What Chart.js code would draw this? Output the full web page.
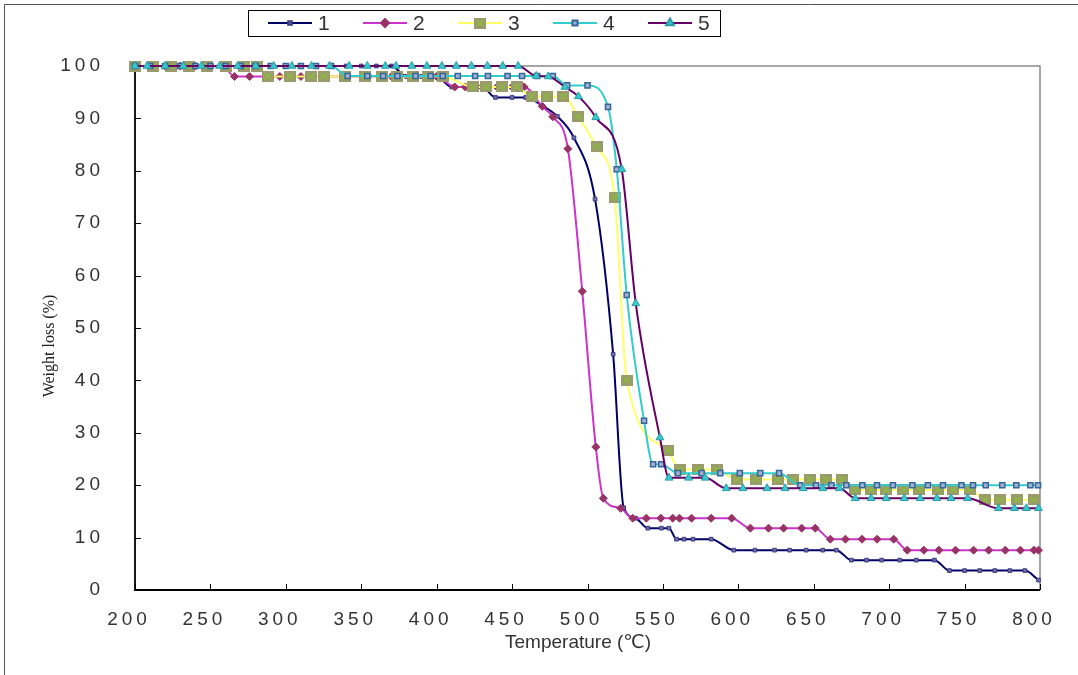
<!DOCTYPE html>
<html><head><meta charset="utf-8">
<script src="https://cdn.jsdelivr.net/npm/chart.js@4.4.0/dist/chart.umd.min.js"></script>
<style>html,body{margin:0;padding:0;background:#fff;}#wrap{width:1078px;height:675px;}</style>
</head><body><div id="wrap"><canvas id="c" width="1078" height="675"></canvas></div>
<script>
const xTicks = [200,250,300,350,400,450,500,550,600,650,700,750,800];
const yTicks = [0,10,20,30,40,50,60,70,80,90,100];
const seriesLabels = ['1','2','3','4','5'];
const xTitle = 'Temperature (℃)';
const yTitle = 'Weight loss (%)';

const temp1 = [200,210,220,230,240,250,260,270,280,290,300,310,320,330,340,350,360,370,380,390,400,410,420,430,439,450,459,470,480,491,505,517,524,532,540,549,554,559,564,570,582,597,611,624,634,645,656,665,675,685,695,707,718,730,740,750,760,770,780,790,799];
const loss1 = [100,100,100,100,100,100,100,100,100,100,100,100,100,100,100,100,100,100,98,98,98,96,96,96,94,94,94,92.4,90.4,86.3,74.6,45,15.7,13.7,11.8,11.8,11.8,9.7,9.7,9.7,9.7,7.6,7.6,7.6,7.6,7.6,7.6,7.6,5.7,5.7,5.7,5.7,5.7,5.7,3.7,3.7,3.7,3.7,3.7,3.7,1.9];

const temp2 = [200,210,220,230,240,250,258,266,276,296,310,325,340,355,370,385,400,412,419,430,440,450,458,470,477,487,496.5,505.5,510.5,522,530,539,548.6,556.5,561,569,582,595.6,608,620,630,642,651,661,671,682,692,703,712,723,733,744,756,766,777,787,796,799];
const loss2 = [100,100,100,100,100,100,100,98,98,98,98,98,98,98,98,98,98,96,96,96,96,96,96,92.3,90.3,84.2,57,27.3,17.5,15.6,13.7,13.7,13.7,13.7,13.7,13.7,13.7,13.7,11.8,11.8,11.8,11.8,11.8,9.7,9.7,9.7,9.7,9.7,7.6,7.6,7.6,7.6,7.6,7.6,7.6,7.6,7.6,7.6];

const temp3 = [200,212,224,236,248,260,272,281,288,303,317,325,339,352.5,364,374,384,394,404,424,433,443,453,463,473,484,494,506,518,526,553.5,561,573.5,585.6,599,612,626,636.5,647.5,658,668.6,677.5,688,698,709.5,720,732.7,742.6,753.7,763.7,773.6,784.7,796];
const loss3 = [100,100,100,100,100,100,100,100,98,98,98,98,98,98,98,98,98,98,98,96,96,96,96,94.2,94.2,94.2,90.3,84.6,75,40,26.6,23,23,23,21.1,21.1,21.1,21.1,21.1,21.1,21.1,19.1,19.1,19.1,19.1,19.1,19.1,19.1,19.1,17.2,17.2,17.2,17.2];

const temp4 = [200,210,220,230,240,250,260,270,280,290,300,310,320,330,341,354,364.5,374,386,396,404,414,425.5,434,447,456.6,466.6,477,486.5,500,513.6,519.4,526,537.5,543.5,548.8,560,575.7,588,601,614.5,627,641,651.5,661.7,671.6,682.2,691.9,702.5,715.4,725.7,735.7,747.9,755.6,764,775,784.3,793.6,798.7];
const loss4 = [100,100,100,100,100,100,100,100,100,100,100,100,100,100,98.1,98.1,98.1,98.1,98.1,98.1,98.1,98.1,98.1,98.1,98.1,98.1,98.1,98.1,96.3,96.3,92.2,80.3,56.3,32.3,24,24,22.3,22.3,22.3,22.3,22.3,22.3,20,20,20,20,20,20,20,20,20,20,20,20,20,20,20,20,20];

const temp5 = [200,208,220,232,244,256,268,280,292,304,317,329,342,354,366,373,383.5,393.5,403.5,413,423,433.6,443.8,454,466,474,485,494,505.5,522.7,532,548,554,567,578,592,603,619,631,643,656,667,677.5,688,698,710,720.6,731.6,741,752,772.5,783,791,799];
const loss5 = [100,100,100,100,100,100,100,100,100,100,100,100,100,100,100,100,100,100,100,100,100,100,100,100,98.1,98,96,94.2,90.2,80.3,54.7,29.1,21.4,21.4,21.4,19.4,19.4,19.4,19.4,19.4,19.4,19.4,17.5,17.5,17.5,17.5,17.5,17.5,17.5,17.5,15.6,15.6,15.6,15.6];

const toPts = (t, v) => t.map((x, i) => ({x: x, y: v[i]}));

// olive square with green cross marker for series 3
const sq3 = document.createElement('canvas');
sq3.width = 12; sq3.height = 11;
(function(){
  const g = sq3.getContext('2d');
  g.fillStyle = '#9a9a6c'; g.fillRect(0,0,12,11);
  g.strokeStyle = '#8cbf3a'; g.lineWidth = 1.4;
  g.beginPath(); g.moveTo(2.5,2.5); g.lineTo(9.5,8.5); g.moveTo(9.5,2.5); g.lineTo(2.5,8.5); g.stroke();
})();

const TICK_FONT = "'Liberation Sans','DejaVu Sans','Noto Sans CJK KR',sans-serif";

const datasets = [
  {label: seriesLabels[0], data: toPts(temp1, loss1), borderColor: '#000066', borderWidth: 2,
   pointStyle: 'rect', pointRadius: 2.6, pointBackgroundColor: '#6c6caa', pointBorderColor: '#3a3a80', pointBorderWidth: 1, order: 5},
  {label: seriesLabels[1], data: toPts(temp2, loss2), borderColor: '#cc33cc', borderWidth: 2,
   pointStyle: 'rectRot', pointRadius: 4, pointBackgroundColor: '#993366', pointBorderColor: '#993366', pointBorderWidth: 1, order: 4},
  {label: seriesLabels[2], data: toPts(temp3, loss3), borderColor: '#ffff66', borderWidth: 2,
   pointStyle: sq3, pointRadius: 6, pointBackgroundColor: '#9a9a6c', pointBorderColor: '#9a9a6c', order: 3},
  {label: seriesLabels[3], data: toPts(temp4, loss4), borderColor: '#33cccc', borderWidth: 2,
   pointStyle: 'rect', pointRadius: 3.6, pointBackgroundColor: '#a8aed2', pointBorderColor: '#336699', pointBorderWidth: 1.5, order: 2},
  {label: seriesLabels[4], data: toPts(temp5, loss5), borderColor: '#660066', borderWidth: 2,
   pointStyle: 'triangle', pointRadius: 4.5, pointBackgroundColor: '#33cccc', pointBorderColor: '#2f9aa8', pointBorderWidth: 1, order: 1}
];
datasets.forEach(d => { d.showLine = true; d.fill = false; d.tension = 0.4; d.cubicInterpolationMode = 'monotone'; d.clip = 10; });

const deco = {
  id: 'deco',
  beforeDraw(chart) {
    const ctx = chart.ctx;
    ctx.save(); ctx.fillStyle = '#fff'; ctx.fillRect(0, 0, chart.width, chart.height); ctx.restore();
    ctx.letterSpacing = '4px';
  },
  beforeDatasetsDraw(chart) {
    const ctx = chart.ctx;
    ctx.letterSpacing = '0px';
    const a = chart.chartArea, xs = chart.scales.x, ys = chart.scales.y;
    ctx.save();
    ctx.strokeStyle = '#8a8a8a'; ctx.lineWidth = 1.5;
    ctx.beginPath(); ctx.moveTo(a.left, a.top); ctx.lineTo(a.right, a.top); ctx.lineTo(a.right, a.bottom); ctx.stroke();
    ctx.strokeStyle = '#000'; ctx.lineWidth = 1.8;
    ctx.beginPath(); ctx.moveTo(a.left, a.top); ctx.lineTo(a.left, a.bottom); ctx.lineTo(a.right, a.bottom); ctx.stroke();
    ctx.lineWidth = 1;
    ctx.beginPath();
    yTicks.forEach(v => { const y = Math.round(ys.getPixelForValue(v)) + 0.5; ctx.moveTo(a.left, y); ctx.lineTo(a.left + 6, y); });
    xTicks.forEach(v => { const x = Math.round(xs.getPixelForValue(v)) + 0.5; ctx.moveTo(x, a.bottom); ctx.lineTo(x, a.bottom - 6); });
    ctx.stroke();
    ctx.restore();
  },
  afterDraw(chart) {
    const ctx = chart.ctx;
    ctx.save();
    ctx.letterSpacing = '0px';
    // outer frame (left, top)
    ctx.strokeStyle = '#555'; ctx.lineWidth = 1;
    ctx.beginPath(); ctx.moveTo(4.5, 675); ctx.lineTo(4.5, 4.5); ctx.lineTo(1078, 4.5); ctx.stroke();
    // legend
    ctx.strokeStyle = '#000'; ctx.lineWidth = 1;
    ctx.strokeRect(248.5, 10.5, 472, 26);
    const cy = 23;
    chart.data.datasets.forEach((d, i) => {
      const x0 = 268 + 95 * i, x1 = x0 + 44;
      ctx.strokeStyle = d.borderColor; ctx.lineWidth = 2;
      ctx.beginPath(); ctx.moveTo(x0, cy); ctx.lineTo(x1, cy); ctx.stroke();
      ctx.fillStyle = d.pointBackgroundColor; ctx.strokeStyle = d.pointBorderColor;
      Chart.helpers.drawPoint(ctx, {pointStyle: d.pointStyle, radius: d.pointRadius, borderWidth: d.pointBorderWidth || 1, rotation: 0}, (x0 + x1) / 2, cy);
      ctx.fillStyle = '#333'; ctx.font = "21px " + TICK_FONT; ctx.textBaseline = 'middle'; ctx.textAlign = 'left';
      ctx.fillText(d.label, x1 + 6, cy + 1);
    });
    // x title
    ctx.fillStyle = '#333'; ctx.font = "19px " + TICK_FONT;
    ctx.textAlign = 'center'; ctx.textBaseline = 'middle';
    ctx.fillText(xTitle, 578, 643);
    // y title
    ctx.translate(50, 346); ctx.rotate(-Math.PI / 2);
    ctx.fillStyle = '#222'; ctx.font = "16px 'Liberation Serif','DejaVu Serif',serif";
    ctx.textAlign = 'center'; ctx.textBaseline = 'middle';
    ctx.fillText(yTitle, 0, 0);
    ctx.restore();
  }
};

new Chart(document.getElementById('c'), {
  type: 'scatter',
  data: {datasets: datasets},
  options: {
    responsive: false, animation: false, devicePixelRatio: 1,
    layout: {padding: {top: 66, right: 38, left: 0, bottom: 0}},
    plugins: {legend: {display: false}, tooltip: {enabled: false}, title: {display: false}},
    scales: {
      x: {
        type: 'linear', min: 200, max: 800,
        afterBuildTicks: s => { s.ticks = xTicks.map(v => ({value: v})); },
        afterFit: s => { s.height = 85; },
        grid: {display: false, drawTicks: false}, border: {display: false},
        ticks: {font: {family: TICK_FONT, size: 19}, color: '#333', padding: 18, labelOffset: -6, maxRotation: 0, autoSkip: false},
        title: {display: false}
      },
      y: {
        type: 'linear', min: 0, max: 100,
        afterBuildTicks: s => { s.ticks = yTicks.map(v => ({value: v})); },
        afterFit: s => { s.width = 135; },
        grid: {display: false, drawTicks: false}, border: {display: false},
        ticks: {font: {family: TICK_FONT, size: 19}, color: '#333', padding: 31, autoSkip: false},
        title: {display: false}
      }
    }
  },
  plugins: [deco]
});
</script>
</body></html>
